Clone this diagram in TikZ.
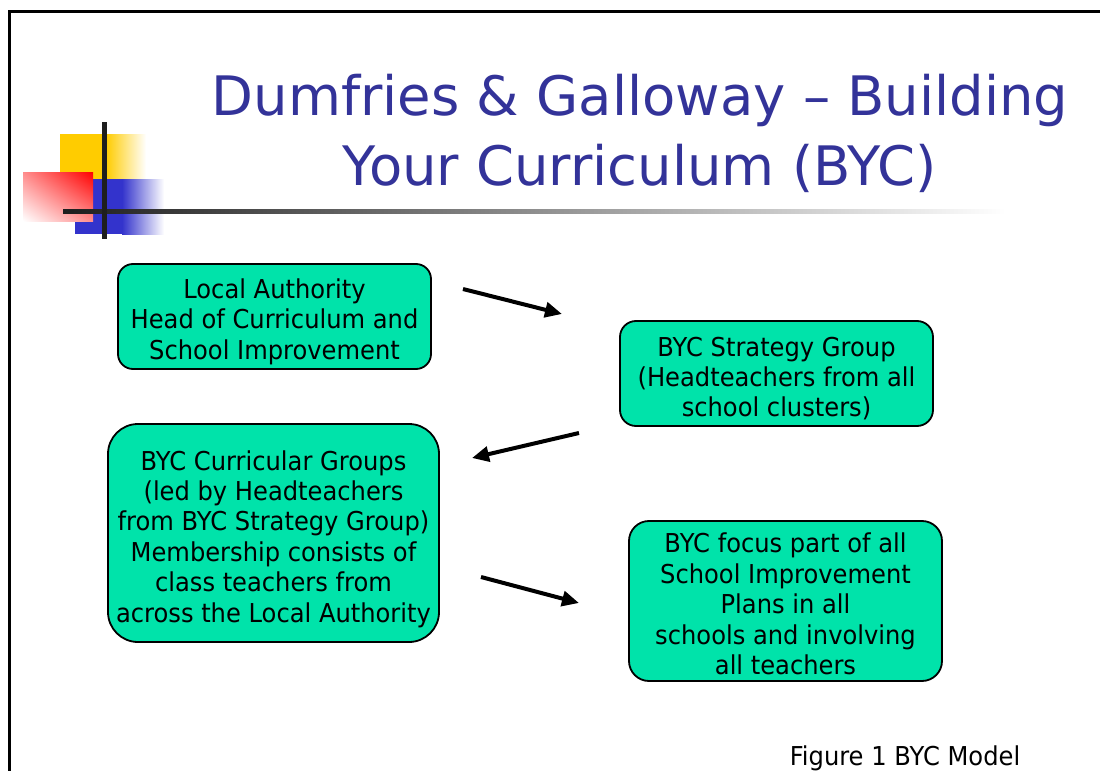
\documentclass[tikz,border=0pt]{standalone}
\usepackage{fontspec}
\setmainfont{DejaVu Sans}
\newfontfamily\bodyfont[FakeStretch=0.93]{DejaVu Sans}
\usetikzlibrary{arrows.meta,shadings}
\definecolor{boxgreen}{HTML}{00E3AA}
\definecolor{titleblue}{HTML}{333399}
\definecolor{logoyellow}{HTML}{FFCC00}
\definecolor{logoblue}{HTML}{3333CC}
\definecolor{logored}{HTML}{FF0000}
\definecolor{linedark}{HTML}{1E1E1E}
\tikzset{
  box/.style={draw=black, line width=0.9pt, fill=boxgreen, inner sep=0pt},
  boxtext/.style={align=center, font=\bodyfont\fontsize{13}{15.2}\selectfont, inner sep=0pt},
  flow/.style={line width=2pt, -{Triangle[length=8.5pt,width=7.5pt]}},
  titletext/.style={text=titleblue, font=\fontsize{27.2}{33}\selectfont, anchor=base, inner sep=0pt},
}
\begin{document}
\begin{tikzpicture}[x=0.5pt,y=-0.5pt]
\useasboundingbox (0,0) rectangle (1100,771);
\fill[white] (0,0) rectangle (1100,771);
% frame
\draw[line width=1.5pt] (9.5,771) -- (9.5,11) -- (1100,11);
% logo
\fill[logoyellow] (60,134) rectangle (106,181);
\shade[left color=logoyellow, right color=white] (106,134) rectangle (146,181);
\fill[logoblue] (75,179) rectangle (122,234);
\shade[left color=logoblue, right color=white] (122,179) rectangle (164,234);
\shade[upper right=logored, lower left=white, upper left=logored!45!white, lower right=logored!45!white] (23,172) rectangle (93,221);
\shade[left color=linedark, right color=white] (63,209) rectangle (1006,213.5);
\fill[linedark] (102,122) rectangle (106.5,239);
% title
\node[titletext] (t1) at (640,115) {Dumfries \& Galloway – Building};
\node[titletext] (t2) at (640,185) {Your Curriculum (BYC)};
% boxes
\node[box, rounded corners=7.5pt, minimum width=156.5pt, minimum height=52.5pt] (la) at (274.5,316.5) {};
\node[boxtext] (latext) at ([yshift=-2.5pt]la.center)
  {Local Authority\\Head of Curriculum and\\School Improvement};
\node[box, rounded corners=8pt, minimum width=156.5pt, minimum height=52.5pt] (sg) at (776.5,373.5) {};
\node[boxtext] (sgtext) at ([yshift=-2.5pt]sg.center)
  {BYC Strategy Group\\(Headteachers from all\\school clusters)};
\node[box, rounded corners=15pt, minimum width=165.5pt, minimum height=109pt] (cg) at (273.5,533) {};
\node[boxtext] (cgtext) at ([yshift=-3pt]cg.center)
  {BYC Curricular Groups\\(led by Headteachers\\from BYC Strategy Group)\\Membership consists of\\class teachers from\\across the Local Authority};
\node[box, rounded corners=10pt, minimum width=156.5pt, minimum height=80pt] (fp) at (785.5,601) {};
\node[boxtext] (fptext) at ([yshift=-1.5pt]fp.center)
  {BYC focus part of all\\School Improvement\\Plans in all\\schools and involving\\all teachers};
% arrows
\coordinate (a1s) at (463,289); \coordinate (a1e) at (562,314);
\coordinate (a2s) at (579,433); \coordinate (a2e) at (472,458);
\coordinate (a3s) at (481,577); \coordinate (a3e) at (579,603);
\draw[flow] (a1s) -- (a1e);
\draw[flow] (a2s) -- (a2e);
\draw[flow] (a3s) -- (a3e);
% caption
\node[font=\bodyfont\fontsize{13}{15.2}\selectfont, anchor=base, inner sep=0pt] (cap) at (905,765) {Figure 1 BYC Model};
\end{tikzpicture}
\end{document}
